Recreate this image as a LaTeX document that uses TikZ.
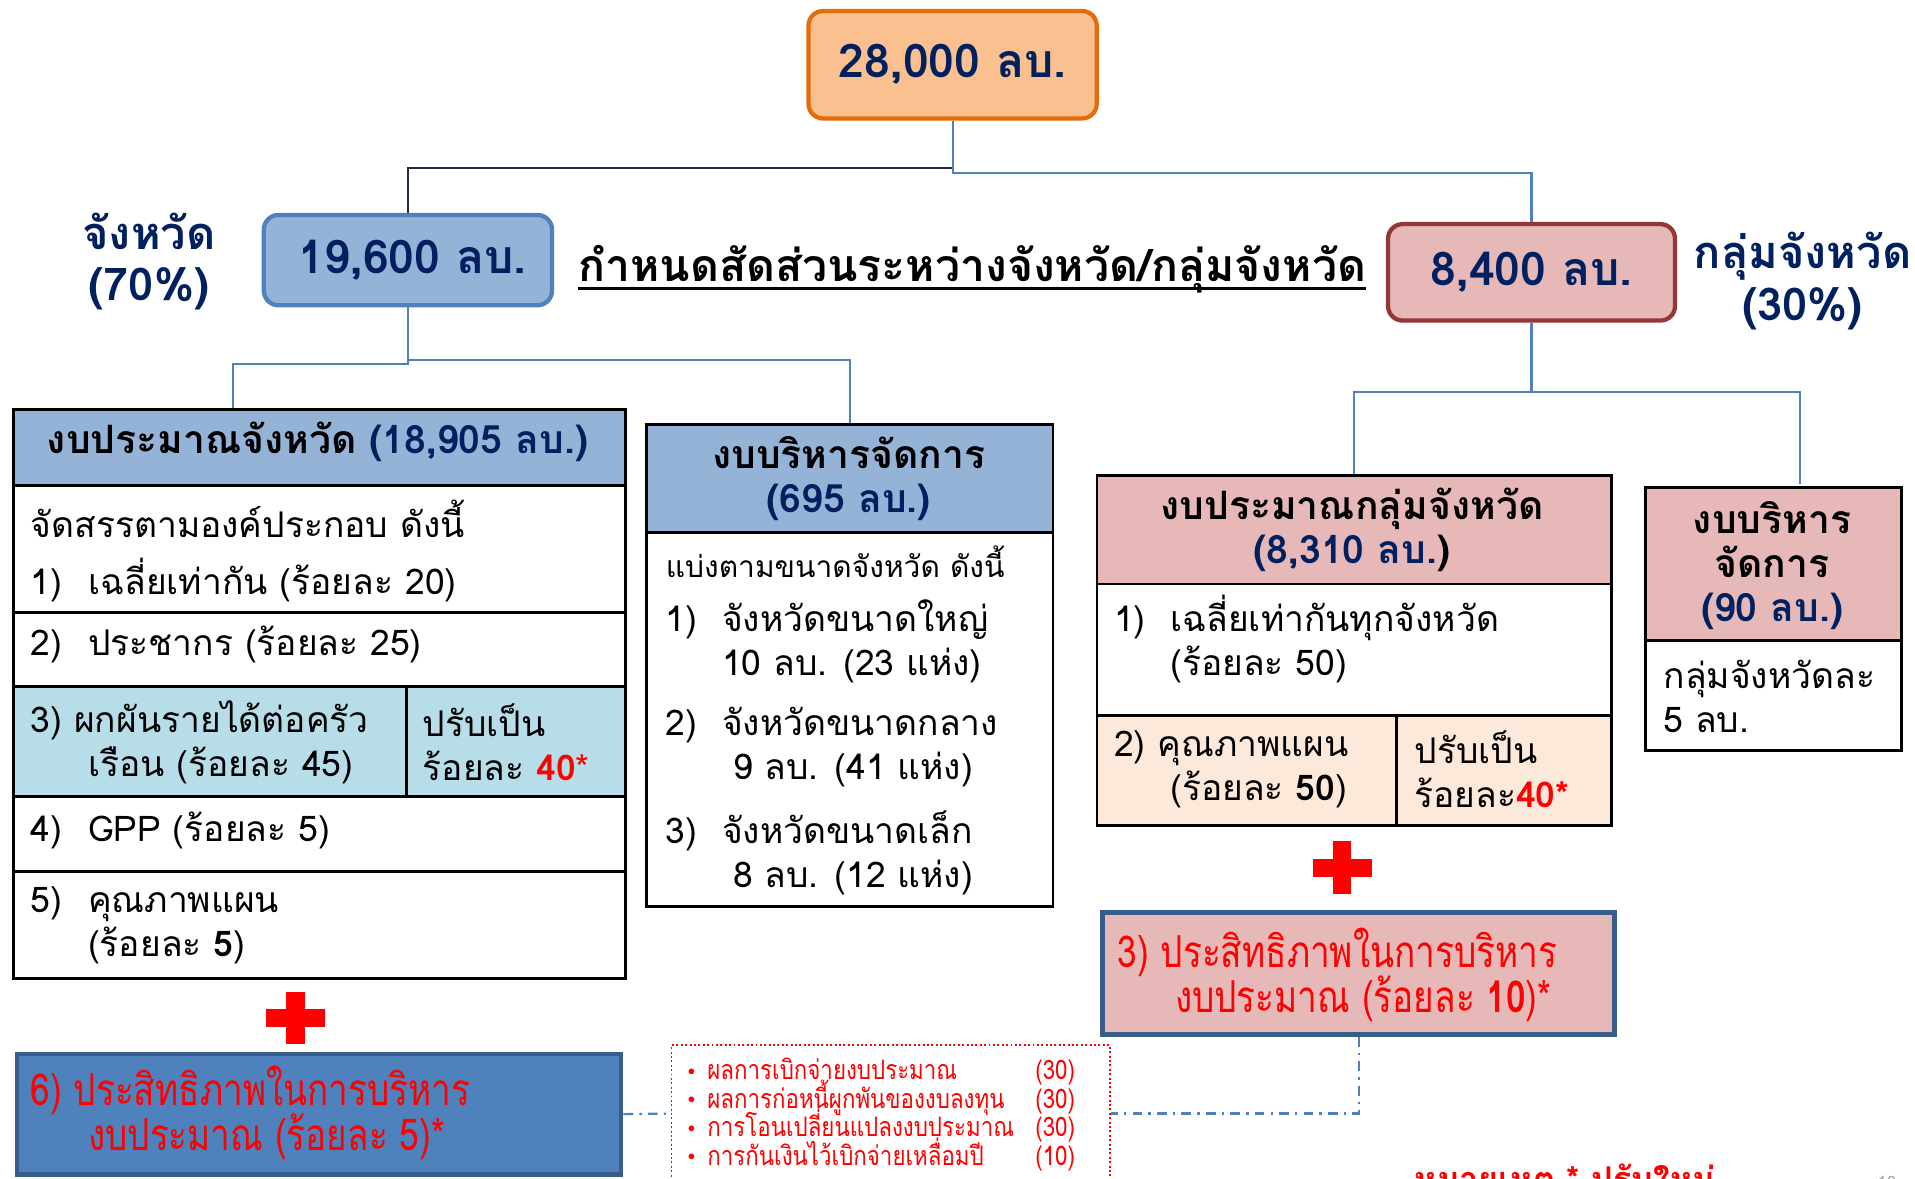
\documentclass[tikz,border=0pt]{standalone}
\usepackage{fontspec}
\setmainfont[Script=Thai]{Loma}
\newfontfamily\narrowthai[Script=Thai,FakeStretch=0.8]{Loma}
\newfontfamily\listthai[Script=Thai,FakeStretch=0.83]{Loma}
\definecolor{navytext}{RGB}{0,32,96}
\definecolor{orangeline}{RGB}{228,108,10}
\definecolor{peachfill}{RGB}{250,192,144}
\definecolor{provblue}{RGB}{149,179,215}
\definecolor{provline}{RGB}{79,129,189}
\definecolor{grpfill}{RGB}{230,185,184}
\definecolor{grpline}{RGB}{149,55,53}
\definecolor{cyanfill}{RGB}{183,222,232}
\definecolor{apricot}{RGB}{253,233,217}
\definecolor{effline}{RGB}{56,93,138}
\definecolor{darkline}{RGB}{30,45,70}
\definecolor{alertred}{RGB}{255,0,0}
\usetikzlibrary{positioning, calc}
\setlength{\lineskiplimit}{-100pt}

\begin{document}
\begin{tikzpicture}[x=1pt, y=-1pt,
  cell/.style={draw=black, line width=2.4pt, anchor=north west, inner sep=0pt},
  sumbox/.style={rounded corners=12pt, line width=3.5pt, inner sep=0pt, font=\bfseries\fontsize{38}{44}\selectfont, text=navytext},
  sidelabel/.style={inner sep=0pt, align=center, text=navytext, font=\bfseries\fontsize{37}{42}\selectfont},
  bodytext/.style={anchor=west, inner sep=0pt, align=left, font=\fontsize{29}{36}\selectfont},
  headtext/.style={inner sep=0pt, align=center, font=\bfseries\fontsize{32}{36}\selectfont},
  redtext/.style={anchor=west, inner sep=0pt, align=left, text=alertred, font=\narrowthai\fontsize{36}{37}\selectfont},
  link/.style={line width=1.8pt, provline},
  effbox/.style={draw=effline, line width=3.5pt, anchor=north west, inner sep=0pt}
]
  \useasboundingbox (0,0) rectangle (1568,965);

  % Totals
  \node[sumbox, draw=orangeline, fill=peachfill, minimum width=236pt, minimum height=88pt] (total) at (780,53) {28,000 ลบ.};
  \node[sumbox, draw=provline, fill=provblue, minimum width=236pt, minimum height=74pt] (pv) at (334,213) {\hspace{8pt}19,600 ลบ.};
  \node[sumbox, draw=grpline, fill=grpfill, minimum width=235pt, minimum height=79pt] (grp) at (1254,223) {8,400 ลบ.};

  \node[sidelabel] (pvlabel) at (122,214) {จังหวัด\\(70\%)};
  \node[sidelabel] (grplabel) at (1476,230) {กลุ่มจังหวัด\\(30\%)};

  \node[inner sep=0pt, font=\bfseries\fontsize{36.5}{40}\selectfont] (ratio) at (796,220) {กำหนดสัดส่วนระหว่างจังหวัด/กลุ่มจังหวัด};
  \draw[line width=2.8pt] ([yshift=-6pt]ratio.base west) -- ([yshift=-6pt]ratio.base east);

  % Provincial budget
  \node[cell, fill=provblue, minimum width=501pt, minimum height=62pt] (pvhead) at (10,334) {};
  \node[cell, minimum width=501pt, minimum height=104pt] (pvrow1) at (10,396) {};
  \node[cell, minimum width=501pt, minimum height=61pt] (pvrow2) at (10,500) {};
  \node[cell, fill=cyanfill, minimum width=322pt, minimum height=90pt] (pvrow3a) at (10,561) {};
  \node[cell, fill=cyanfill, minimum width=179pt, minimum height=90pt] (pvrow3b) at (332,561) {};
  \node[cell, minimum width=501pt, minimum height=61pt] (pvrow4) at (10,651) {};
  \node[cell, minimum width=501pt, minimum height=88pt] (pvrow5) at (10,712) {};

  \node[headtext] (pvheadtxt) at (260,362) {งบประมาณจังหวัด \textcolor{navytext}{(18,905 ลบ.)}};
  \node[bodytext] (pvintro) at (25,425) {จัดสรรตามองค์ประกอบ ดังนี้};
  \node[bodytext] (pvitem1) at (25,475) {\makebox[47pt][l]{1)}เฉลี่ยเท่ากัน (ร้อยละ 20)};
  \node[bodytext] (pvitem2) at (25,528) {\makebox[47pt][l]{2)}ประชากร (ร้อยละ 25)};
  \node[bodytext] (pvitem3) at (25,608) {3) ผกผันรายได้ต่อครัว\\\hspace*{47pt}เรือน (ร้อยละ 45)};
  \node[bodytext] (pvadj3) at (346,608) {ปรับเป็น\\ร้อยละ \textcolor{alertred}{\textbf{40}*}};
  \node[bodytext] (pvitem4) at (25,680) {\makebox[47pt][l]{4)}GPP (ร้อยละ 5)};
  \node[bodytext] (pvitem5) at (25,758) {\makebox[47pt][l]{5)}คุณภาพแผน\\\hspace*{47pt}(ร้อยละ \textbf{5})};

  % Provincial administration
  \node[cell, fill=provblue, minimum width=333pt, minimum height=89pt] (adminhead) at (528,346) {};
  \node[cell, minimum width=333pt, minimum height=306pt] (adminbody) at (528,435) {};
  \node[headtext] (adminheadtxt) at (695,392) {งบบริหารจัดการ\\\textcolor{navytext}{(695 ลบ.)}};
  \node[bodytext, font=\fontsize{24.5}{28}\selectfont] (adminintro) at (545,460) {แบ่งตามขนาดจังหวัด ดังนี้};
  \node[bodytext] (adminitem1) at (545,525) {\makebox[46pt][l]{1)}จังหวัดขนาดใหญ่\\\hspace*{46pt}10 ลบ. (23 แห่ง)};
  \node[bodytext] (adminitem2) at (545,612) {\makebox[46pt][l]{2)}จังหวัดขนาดกลาง\\\hspace*{55pt}9 ลบ. (41 แห่ง)};
  \node[bodytext] (adminitem3) at (545,698) {\makebox[46pt][l]{3)}จังหวัดขนาดเล็ก\\\hspace*{55pt}8 ลบ. (12 แห่ง)};

  % Group budget
  \node[cell, fill=grpfill, minimum width=421pt, minimum height=89pt] (gbhead) at (897,388) {};
  \node[cell, minimum width=421pt, minimum height=108pt] (gbrow1) at (897,477) {};
  \node[cell, fill=apricot, minimum width=245pt, minimum height=90pt] (gbrow2a) at (897,585) {};
  \node[cell, fill=apricot, minimum width=176pt, minimum height=90pt] (gbrow2b) at (1142,585) {};
  \node[headtext] (gbheadtxt) at (1107,434) {งบประมาณกลุ่มจังหวัด\\\textcolor{navytext}{(8,310 ลบ.}{)}};
  \node[bodytext] (gbitem1) at (912,523) {\makebox[46pt][l]{1)}เฉลี่ยเท่ากันทุกจังหวัด\\\hspace*{46pt}(ร้อยละ 50)};
  \node[bodytext] (gbitem2) at (912,630) {2) คุณภาพแผน\\\hspace*{46pt}(ร้อยละ \textbf{50})};
  \node[bodytext] (gbadj2) at (1158,630) {ปรับเป็น\\ร้อยละ\textcolor{alertred}{\textbf{40*}}};

  % Group administration
  \node[cell, fill=grpfill, minimum width=210pt, minimum height=125pt] (gahead) at (1346,398) {};
  \node[cell, minimum width=210pt, minimum height=90pt] (gabody) at (1346,523) {};
  \node[headtext] (gaheadtxt) at (1451,463) {งบบริหาร\\จัดการ\\\textcolor{navytext}{(90 ลบ.)}};
  \node[bodytext] (gatxt) at (1362,570) {กลุ่มจังหวัดละ\\5 ลบ.};

  % Efficiency boxes
  \node[effbox, fill=provline, minimum width=495pt, minimum height=99pt] (eff6) at (12,861) {};
  \node[redtext] (eff6txt) at (25,911) {6) ประสิทธิภาพในการบริหาร\\\hspace*{47pt}งบประมาณ (ร้อยละ 5)*};
  \node[effbox, fill=grpfill, line width=4pt, minimum width=419pt, minimum height=100pt] (eff3) at (901,745) {};
  \node[redtext] (eff3txt) at (915,798) {3) ประสิทธิภาพในการบริหาร\\\hspace*{47pt}งบประมาณ (ร้อยละ \textbf{10})*};

  % Plus signs
  \fill[alertred] (218,826) rectangle (266,841);
  \fill[alertred] (234.5,812) rectangle (249.5,855);
  \fill[alertred] (1075,703) rectangle (1123,718);
  \fill[alertred] (1091.5,689) rectangle (1106.5,732);

  % Indicators
  \node[draw=alertred, dotted, line width=1.6pt, anchor=north west, minimum width=359pt, minimum height=112pt, inner sep=0pt] (kpi) at (549,855) {};
  \node[anchor=north west, inner sep=0pt, align=left, text=alertred, font=\listthai\fontsize{22}{23.4}\selectfont] (kpitxt) at (563,866) {%
    \makebox[317pt][l]{\raisebox{3.5pt}{\fontsize{13}{13}\selectfont$\bullet$}\hspace{10pt}ผลการเบิกจ่ายงบประมาณ\hfill(30)}\\
    \makebox[317pt][l]{\raisebox{3.5pt}{\fontsize{13}{13}\selectfont$\bullet$}\hspace{10pt}ผลการก่อหนี้ผูกพันของงบลงทุน\hfill(30)}\\
    \makebox[317pt][l]{\raisebox{3.5pt}{\fontsize{13}{13}\selectfont$\bullet$}\hspace{10pt}การโอนเปลี่ยนแปลงงบประมาณ\hfill(30)}\\
    \makebox[317pt][l]{\raisebox{3.5pt}{\fontsize{13}{13}\selectfont$\bullet$}\hspace{10pt}การกันเงินไว้เบิกจ่ายเหลื่อมปี\hfill(10)}};

  \node[anchor=west, inner sep=0pt, text=alertred, font=\bfseries\fontsize{28}{34}\selectfont] (note) at (1158,968) {หมายเหตุ * ปรับใหม่};
  \node[inner sep=0pt, text=black!35, font=\fontsize{14}{16}\selectfont] (pageno) at (1545,968) {10};

  % Connectors
  \draw[line width=1.8pt, darkline] (total.south) -- ++(0,39) -| (pv.north);
  \draw[link] (total.south) -- ++(0,43) -| (grp.north);
  \coordinate (pvin) at (191,334);
  \draw[link] (pv.south) -- ++(0,46) -| (pvin);
  \draw[link] (pv.south) -- ++(0,43) -| (adminhead.north);
  \coordinate (gain) at (1474,396);
  \draw[link] (grp.south) -- ++(0,57) -| (gbhead.north);
  \draw[link] (grp.south) -- ++(0,57) -| (gain);
  \draw[link, dash pattern=on 8pt off 5pt on 2pt off 5pt] (eff6.east) -- (kpi.west);
  \draw[link, dash pattern=on 8pt off 5pt on 2pt off 5pt] (eff3.south) |- (kpi.east);
\end{tikzpicture}
\end{document}
